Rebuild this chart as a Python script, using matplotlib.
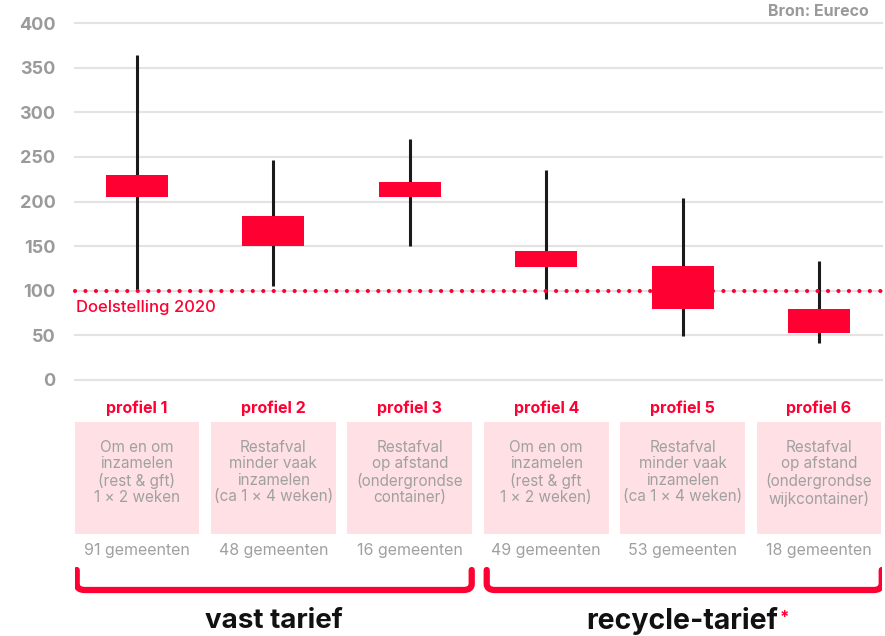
import matplotlib
matplotlib.use("Agg")
import matplotlib.pyplot as plt
from matplotlib.patches import Rectangle
from matplotlib.path import Path
from matplotlib.patches import PathPatch

plt.rcParams['font.family'] = ['Inter', 'DejaVu Sans']

# ---- data ----
profiles = ["profiel 1", "profiel 2", "profiel 3", "profiel 4", "profiel 5", "profiel 6"]
whisker_low = [100, 105, 150, 91, 49, 42]
whisker_high = [364, 247, 270, 235, 204, 133]
box_low = [205, 150, 205, 127, 80, 53]
box_high = [230, 184, 222, 145, 128, 79]
descriptions = [
    "Om en om\ninzamelen\n(rest & gft)\n1 × 2 weken",
    "Restafval\nminder vaak\ninzamelen\n(ca 1 × 4 weken)",
    "Restafval\nop afstand\n(ondergrondse\ncontainer)",
    "Om en om\ninzamelen\n(rest & gft\n1 × 2 weken)",
    "Restafval\nminder vaak\ninzamelen\n(ca 1 × 4 weken)",
    "Restafval\nop afstand\n(ondergrondse\nwijkcontainer)",
]
municipalities = ["91 gemeenten", "48 gemeenten", "16 gemeenten",
                  "49 gemeenten", "53 gemeenten", "18 gemeenten"]
target = 100
target_label = "Doelstelling 2020"
yticks = [0, 50, 100, 150, 200, 250, 300, 350, 400]
groups = ["vast tarief", "recycle-tarief"]
source = "Bron: Eureco"

RED = "#ff0033"
GRAY = "#9a9a9a"
W, H = 885, 636

fig = plt.figure(figsize=(W / 100, H / 100), dpi=100)
fig.patch.set_facecolor("white")

x_left, x_right = 75, 882
y_zero, y_top = 380, 23
xlim = (-0.4545, 5.462)

ax = fig.add_axes([x_left / W, 1 - y_zero / H, (x_right - x_left) / W, (y_zero - y_top) / H])
ax.set_xlim(*xlim)
ax.set_ylim(0, 400)
for s in ax.spines.values():
    s.set_visible(False)
ax.set_xticks([])
ax.set_yticks(yticks)
ax.set_yticklabels([str(t) for t in yticks], color=GRAY, fontsize=13, fontweight="bold")
ax.tick_params(axis="y", length=0, pad=14)
for t in yticks:
    ax.axhline(t, color="#e3e3e3", lw=1.5, zorder=0, clip_on=False)

xs = list(range(len(profiles)))
ax.vlines(xs, whisker_low, whisker_high, color="#1a1a1a", lw=2.2, zorder=2)
ax.bar(xs, [h - l for h, l in zip(box_high, box_low)], bottom=box_low,
       width=0.455, color=RED, zorder=3)
ax.plot([xlim[0], xlim[1]], [target, target], linestyle=(0, (0.01, 2.5)), dash_capstyle="round",
        color=RED, lw=3.0, zorder=4, clip_on=False)
ax.text(xlim[0] + 0.01, target - 10, target_label, color=RED, fontsize=12,
        va="top", ha="left", fontweight="medium")

# ---- overlay for lower annotations (x in data units, y in pixels) ----
ov = fig.add_axes([x_left / W, 0, (x_right - x_left) / W, 1])
ov.set_xlim(*xlim)
ov.set_ylim(H, 0)
ov.axis("off")
ov.patch.set_alpha(0)

fig.text(869 / W, 1 - 11 / H, source, color=GRAY, fontsize=11.5, fontweight="bold",
         ha="right", va="center")

pw = 0.916
for i, (p, d, m) in enumerate(zip(profiles, descriptions, municipalities)):
    ov.text(i, 408, p, color=RED, fontsize=11.5, fontweight="bold", ha="center", va="center")
    ov.add_patch(Rectangle((i - pw / 2, 422), pw, 112, color="#ffe1e5", lw=0))
    ov.text(i, 440, d, color="#a0a0a0", fontsize=11, ha="center", va="top", linespacing=1.12)
    ov.text(i, 551, m, color="#a0a0a0", fontsize=11.5, ha="center", va="center")

def bracket(x0, x1):
    r = 0.06
    verts = [(x0, 570), (x0, 584), (x0, 590), (x0 + r, 590), (x1 - r, 590),
             (x1, 590), (x1, 584), (x1, 570)]
    codes = [Path.MOVETO, Path.LINETO, Path.CURVE3, Path.CURVE3, Path.LINETO,
             Path.CURVE3, Path.CURVE3, Path.LINETO]
    ov.add_patch(PathPatch(Path(verts, codes), fill=False, edgecolor=RED, lw=4.5,
                           capstyle="round", joinstyle="round"))

bracket(-0.442, 2.454)
bracket(2.564, 5.46)

ov.text(1.0, 621, groups[0], color="#111111", fontsize=20, fontweight="bold",
        ha="center", va="center")
t = ov.text(4.0, 621, groups[1], color="#111111", fontsize=20.5, fontweight="bold",
            ha="center", va="center")
fig.canvas.draw()
bb = t.get_window_extent()
fig.text((bb.x1 + 1) / W, (bb.y1 - 3) / H, "*", color=RED, fontsize=12, fontweight="bold",
         ha="left", va="top")

fig.savefig("out.png", dpi=100, facecolor="white")
